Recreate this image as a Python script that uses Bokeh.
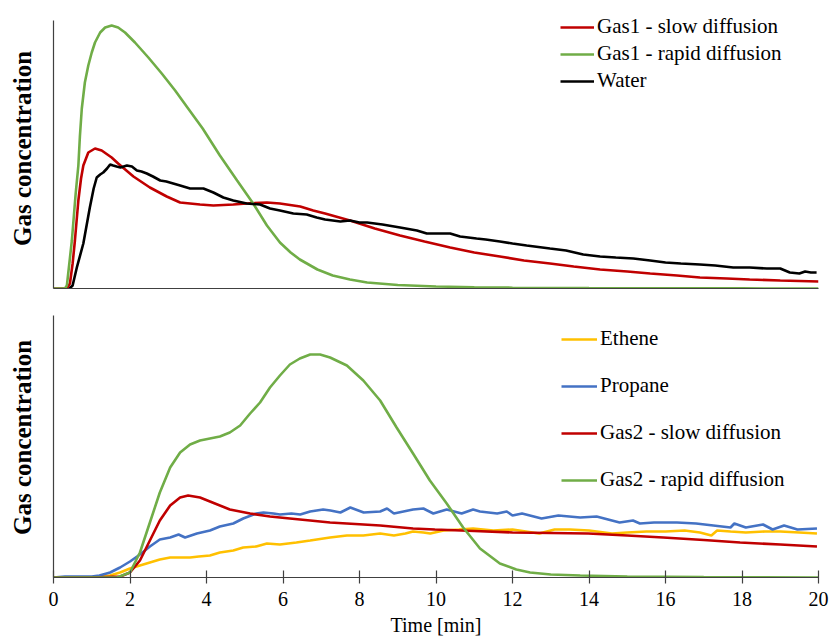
from bokeh.plotting import figure
from bokeh.layouts import column
from bokeh.models import Range1d, Legend, LegendItem, FixedTicker
from bokeh.embed import file_html
from bokeh.resources import INLINE

# ---------------- data (arbitrary concentration units) ----------------
x_ticks = [0, 2, 4, 6, 8, 10, 12, 14, 16, 18, 20]

# Top panel
gas1_slow_t = [0, 0.35, 0.43, 0.5, 0.56, 0.65, 0.72, 0.78, 0.91, 1.085, 1.26, 1.52, 1.69, 2.09,
               2.52, 2.96, 3.31, 3.83, 4.18, 4.7, 5.05, 5.58, 5.92, 6.45, 6.79, 7.1, 7.75, 8.4,
               9.06, 9.7, 10.37, 11.0, 11.67, 12.3, 12.98, 13.6, 14.29, 15.0, 15.6, 16.3, 16.9,
               17.6, 18.2, 19.0, 20.0]
gas1_slow_v = [0, 0, 5, 25, 48, 88, 110, 123, 136, 140, 138, 131, 125, 112,
               101, 92, 86, 84, 83, 84, 85, 86, 85, 82, 78, 75, 68, 60,
               53, 47, 41, 36, 32, 28, 25, 22, 19, 17, 15, 13, 11,
               10, 9, 8, 7]

gas1_rapid_t = [0, 0.3, 0.35, 0.48, 0.58, 0.65, 0.69, 0.74, 0.82, 0.91, 1.0, 1.085, 1.22, 1.35,
                1.52, 1.69, 1.87, 2.13, 2.48, 2.83, 3.18, 3.52, 3.9, 4.35, 4.8, 5.22, 5.58,
                5.92, 6.2, 6.44, 6.9, 7.3, 7.75, 8.2, 9.0, 10.0, 11.0, 12.0, 14.0, 16.0, 18.0, 20.0]
gas1_rapid_v = [0, 0, 3, 48, 95, 123, 152, 180, 206, 223, 236, 246, 256, 261,
                263, 261, 256, 246, 231, 215, 198, 180, 160, 133, 108, 85, 63,
                46, 36, 29, 19, 13, 9, 6, 3.5, 2, 1.2, 0.8, 0.4, 0.2, 0.1, 0]

water_t = [0.42, 0.5, 0.61, 0.78, 0.95, 1.05, 1.13, 1.22, 1.3, 1.4, 1.48, 1.56, 1.65, 1.75,
           1.92, 2.05, 2.18, 2.3, 2.44, 2.6, 2.79, 2.95, 3.13, 3.31, 3.57, 3.92, 4.18, 4.44,
           4.7, 5.05, 5.4, 5.66, 5.92, 6.27, 6.62, 6.88, 7.1, 7.5,
           7.75, 8.0, 8.2, 8.6, 9.06, 9.5, 9.76, 10.1, 10.37, 10.63, 11.06, 11.3, 11.67,
           12.0, 12.37, 12.98, 13.4, 13.85, 14.29, 14.7, 15.16, 15.6, 16.0, 16.4, 16.9,
           17.3, 17.77, 18.2, 18.65, 19.0, 19.25, 19.5, 19.65, 19.8, 19.95]
water_v = [0, 3, 21, 45, 81, 100, 111, 114, 116, 120, 124, 123, 122, 121,
           123, 122, 118, 117, 115, 112, 108, 107, 105, 103, 100, 100, 96, 91,
           88, 85, 84, 80, 78, 75, 74, 71, 69, 67,
           68, 66, 66, 64, 61, 58, 55, 55, 55, 52, 50, 49, 47,
           45, 43, 40, 38, 34, 32, 31, 30, 28, 26, 25, 24,
           23, 21, 21, 20, 20, 16, 15, 17, 16, 16]

# Bottom panel
ethene_t = [0, 0.5, 1.0, 1.48, 1.74, 2.0, 2.26, 2.52, 2.78, 3.05, 3.3, 3.57, 3.8, 4.09, 4.35,
            4.7, 4.96, 5.3, 5.58, 5.92, 6.35, 6.71, 7.23, 7.67, 8.1, 8.54, 8.9,
            9.2, 9.4, 9.67, 9.85, 10.2, 10.6, 10.97, 11.5, 12.0, 12.35, 12.7, 13.1, 13.5,
            14.0, 14.6, 15.0, 15.5, 16.0, 16.5, 16.9, 17.2, 17.35, 17.7, 18.1, 18.6, 19.0,
            19.5, 19.96]
ethene_v = [0, 0, 0, 2, 5, 9, 12, 15, 18, 20, 20, 20, 21, 22, 25,
            27, 30, 31, 34, 33, 35, 37, 40, 42, 42, 44, 42,
            44, 46, 45, 44, 47, 48, 49, 47, 48, 46, 44, 48, 48,
            47, 44, 45, 46, 46, 47, 45, 42, 47, 46, 45, 46, 46,
            45, 44]

propane_t = [0, 0.3, 0.6, 1.0, 1.2, 1.48, 1.74, 2.0, 2.26, 2.52, 2.78, 3.05, 3.27, 3.44, 3.75,
             4.09, 4.35, 4.7, 4.96, 5.3, 5.49, 5.75, 5.92, 6.22, 6.45, 6.71, 7.05, 7.24, 7.5,
             7.76, 8.11, 8.54, 8.72, 8.9, 9.4, 9.67, 9.93, 10.28, 10.67, 10.97, 11.15, 11.6,
             11.85, 12.0, 12.25, 12.76, 13.2, 13.77, 14.2, 14.8, 15.15, 15.33, 15.7, 16.3,
             16.8, 17.25, 17.7, 17.8, 18.1, 18.55, 18.8, 19.1, 19.45, 19.96]
propane_v = [0, 1, 1, 1, 2, 5, 10, 16, 23, 31, 38, 40, 43, 40, 44,
             47, 51, 54, 59, 64, 65, 64, 63, 64, 63, 66, 68, 67, 65,
             70, 65, 66, 69, 64, 68, 69, 64, 68, 64, 68, 66, 64,
             66, 62, 64, 59, 62, 60, 61, 55, 57, 54, 55, 55,
             54, 52, 50, 54, 50, 53, 48, 52, 48, 49]

gas2_slow_t = [0, 1.0, 1.75, 2.0, 2.26, 2.52, 2.78, 3.05, 3.31, 3.52, 3.83, 4.09, 4.61, 5.14,
               5.66, 6.18, 6.71, 7.23, 7.67, 8.54, 9.4, 9.97, 11.0, 12.0, 13.0, 13.98, 15.0,
               15.94, 17.0, 17.95, 19.0, 19.96]
gas2_slow_v = [0, 0, 1, 5, 17, 37, 57, 72, 80, 82, 80, 76, 68, 64,
               61, 59, 57, 55, 54, 52, 49, 48, 46.5, 45, 44.5, 44, 42,
               40, 37.5, 35, 33, 31]

gas2_rapid_t = [0, 1.0, 1.66, 2.0, 2.26, 2.52, 2.78, 3.05, 3.31, 3.57, 3.83, 4.09, 4.35, 4.61,
                4.88, 5.14, 5.4, 5.66, 5.92, 6.18, 6.44, 6.71, 6.97, 7.23, 7.67, 8.1, 8.54,
                8.97, 9.4, 9.84, 10.28, 10.71, 11.15, 11.67, 12.1, 12.46, 13.0, 13.77, 15.0,
                17.0, 20.0]
gas2_rapid_v = [0, 0, 0, 5, 25, 55, 85, 110, 125, 133, 137, 139, 141, 145,
                152, 164, 175, 190, 202, 213, 219, 223, 223, 220, 212, 197, 177,
                150, 124, 97, 74, 50, 29, 14, 8, 5, 3, 2, 1,
                0.5, 0]

RED = "#C00000"
GREEN = "#70AD47"
BLACK = "#000000"
YELLOW = "#FFC000"
BLUE = "#4472C4"
AXIS = "#404040"
FONT = "Liberation Serif"
LW = 2.6


def style(p, ylabel, ytop):
    p.grid.visible = False
    p.outline_line_color = None
    p.background_fill_color = "white"
    p.border_fill_color = "white"
    ya = p.yaxis[0]
    ya.ticker = FixedTicker(ticks=[])
    ya.bounds = (0, ytop)
    ya.major_tick_out = 0
    ya.major_tick_in = 0
    ya.minor_tick_out = 0
    ya.minor_tick_in = 0
    ya.major_label_standoff = 0
    ya.axis_line_color = AXIS
    ya.axis_line_width = 1.2
    ya.axis_label = ylabel
    ya.axis_label_text_font = FONT
    ya.axis_label_text_font_style = "bold"
    ya.axis_label_text_font_size = "25px"
    ya.axis_label_text_color = "black"
    ya.axis_label_standoff = 18


# ---------------- top panel ----------------
top = figure(frame_width=765, frame_height=280, output_backend="svg", toolbar_location=None,
             x_range=Range1d(0, 20), y_range=Range1d(0, 280),
             min_border_left=53, min_border_right=11, min_border_top=8, min_border_bottom=9)
style(top, "Gas concentration", 268)
xa = top.xaxis[0]
xa.ticker = FixedTicker(ticks=[])
xa.major_tick_out = 0
xa.major_tick_in = 0
xa.minor_tick_out = 0
xa.minor_tick_in = 0
xa.major_label_standoff = 0
xa.axis_label_standoff = 0
xa.axis_line_color = AXIS
xa.axis_line_width = 1.2

r1 = top.line(gas1_slow_t, gas1_slow_v, line_color=RED, line_width=LW)
r2 = top.line(gas1_rapid_t, gas1_rapid_v, line_color=GREEN, line_width=LW)
r3 = top.line(water_t, water_v, line_color=BLACK, line_width=LW)

leg1 = Legend(items=[LegendItem(label="Gas1 - slow diffusion", renderers=[r1]),
                     LegendItem(label="Gas1 - rapid diffusion", renderers=[r2]),
                     LegendItem(label="Water", renderers=[r3])],
              location=(507, 195), orientation="vertical",
              label_text_font=FONT, label_text_font_size="21px", label_text_color="black",
              glyph_width=34, glyph_height=24, label_height=24, spacing=2,
              label_standoff=3, padding=0, margin=0,
              border_line_color=None, background_fill_alpha=0)
top.add_layout(leg1)

# ---------------- bottom panel ----------------
bot = figure(frame_width=765, frame_height=280, output_backend="svg", toolbar_location=None,
             x_range=Range1d(0, 20), y_range=Range1d(0, 280),
             min_border_left=53, min_border_right=11, min_border_top=0, min_border_bottom=63)
style(bot, "Gas concentration", 262)
xb = bot.xaxis[0]
xb.ticker = FixedTicker(ticks=x_ticks)
xb.major_tick_in = 7
xb.major_tick_out = 6
xb.minor_tick_in = 0
xb.minor_tick_out = 0
xb.major_tick_line_color = AXIS
xb.major_tick_line_width = 1.2
xb.axis_line_color = AXIS
xb.axis_line_width = 1.2
xb.major_label_text_font = FONT
xb.major_label_text_font_size = "20px"
xb.major_label_text_color = "black"
xb.major_label_standoff = 8
xb.axis_label = "Time [min]"
xb.axis_label_text_font = FONT
xb.axis_label_text_font_size = "20px"
xb.axis_label_text_font_style = "normal"
xb.axis_label_text_color = "black"
xb.axis_label_standoff = 5

b1 = bot.line(ethene_t, ethene_v, line_color=YELLOW, line_width=LW)
b2 = bot.line(propane_t, propane_v, line_color=BLUE, line_width=LW)
b3 = bot.line(gas2_slow_t, gas2_slow_v, line_color=RED, line_width=LW)
b4 = bot.line(gas2_rapid_t, gas2_rapid_v, line_color=GREEN, line_width=LW)

leg2 = Legend(items=[LegendItem(label="Ethene", renderers=[b1]),
                     LegendItem(label="Propane", renderers=[b2]),
                     LegendItem(label="Gas2 - slow diffusion", renderers=[b3]),
                     LegendItem(label="Gas2 - rapid diffusion", renderers=[b4])],
              location=(508, 85), orientation="vertical",
              label_text_font=FONT, label_text_font_size="21px", label_text_color="black",
              glyph_width=36, glyph_height=24, label_height=24, spacing=22,
              label_standoff=3, padding=0, margin=0,
              border_line_color=None, background_fill_alpha=0)
bot.add_layout(leg2)

layout = column(top, bot, spacing=0)
open("out.html", "w").write(file_html(layout, INLINE))
